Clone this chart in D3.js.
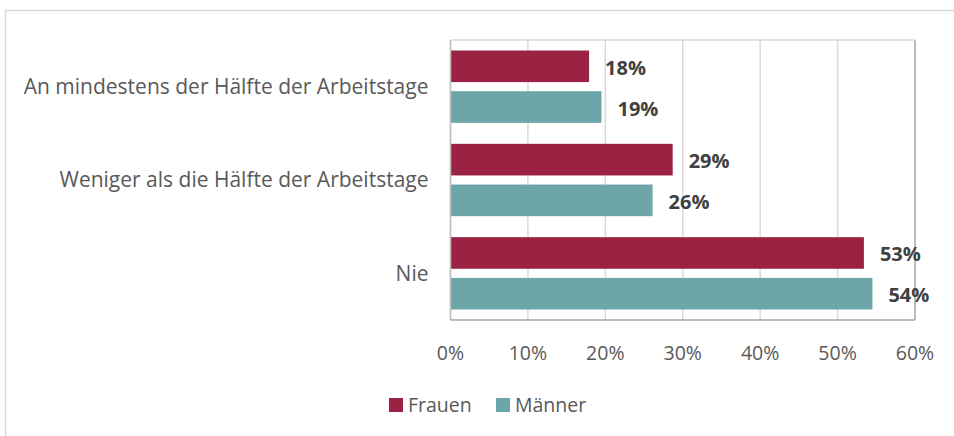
<!DOCTYPE html>
<html lang="de">
  <head>
    <meta charset="utf-8">
    <script src="https://d3js.org/d3.v7.min.js"></script>
    <title>Homeoffice</title>
    <style>
      body { margin: 0; background: #fff; }
      text { font-family: "Open Sans", sans-serif; }
    </style>
  </head>
  <body>
    <script>

      var categories = ["An mindestens der Hälfte der Arbeitstage", "Weniger als die Hälfte der Arbeitstage", "Nie"];
      var seriesNames = ["Frauen", "Männer"];
      var frauen = [17.9, 28.7, 53.4];
      var maenner = [19.5, 26.1, 54.5];
      var valueLabels = [["18%", "29%", "53%"], ["19%", "26%", "54%"]];
      var tickValues = [0, 10, 20, 30, 40, 50, 60];
      var colors = ["#9c2243", "#6ca6a8"];

      var width = 954, height = 436;
      var plotLeft = 450.5, plotRight = 915, plotTop = 40, plotBottom = 320;

      var svg = d3.select("body").append("svg")
        .attr("width", width)
        .attr("height", height);

      // outer chart frame (runs off the right and bottom edge)
      svg.append("rect")
        .attr("x", 5.5).attr("y", 10.5)
        .attr("width", 960).attr("height", 440)
        .attr("fill", "none")
        .attr("stroke", "#d9d9d9")
        .attr("stroke-width", 1.5);

      var x = d3.scaleLinear().domain([0, 60]).range([plotLeft, plotRight]);
      var y = d3.scaleBand().domain(categories).range([plotTop, plotBottom])
        .paddingInner(0.225).paddingOuter(0.1125);
      var ySub = d3.scaleBand().domain(seriesNames).range([0, y.bandwidth()])
        .paddingInner(0.224);

      // gridlines
      svg.append("g").selectAll("line").data(tickValues).enter().append("line")
        .attr("x1", function (d){ return x(d); })
        .attr("x2", function (d){ return x(d); })
        .attr("y1", plotTop).attr("y2", plotBottom)
        .attr("stroke", function (d){ return d === 60 ? "#a6a6a6" : "#d9d9d9"; })
        .attr("stroke-width", 1.5);

      svg.append("line")
        .attr("x1", plotLeft).attr("x2", plotRight).attr("y1", plotTop).attr("y2", plotTop)
        .attr("stroke", "#d9d9d9").attr("stroke-width", 1.5);

      var data = [];
      categories.forEach(function (c, i){
        data.push({cat: c, s: 0, v: frauen[i], label: valueLabels[0][i]});
        data.push({cat: c, s: 1, v: maenner[i], label: valueLabels[1][i]});
      });

      svg.append("g").selectAll("rect").data(data).enter().append("rect")
        .attr("x", x(0))
        .attr("y", function (d){ return y(d.cat) + ySub(seriesNames[d.s]); })
        .attr("width", function (d){ return x(d.v) - x(0); })
        .attr("height", ySub.bandwidth())
        .attr("fill", function (d){ return colors[d.s]; });

      svg.append("g").selectAll("text").data(data).enter().append("text")
        .attr("x", function (d){ return x(d.v) + 16; })
        .attr("y", function (d){ return y(d.cat) + ySub(seriesNames[d.s]) + ySub.bandwidth() / 2 + 1.5; })
        .attr("dy", "0.35em")
        .attr("font-size", "20px")
        .attr("font-weight", "bold")
        .attr("fill", "#404040")
        .text(function (d){ return d.label; });

      // axis lines
      svg.append("line")
        .attr("x1", plotLeft).attr("x2", plotLeft).attr("y1", plotTop).attr("y2", plotBottom)
        .attr("stroke", "#bfbfbf").attr("stroke-width", 1.5);
      svg.append("line")
        .attr("x1", plotLeft).attr("x2", plotRight).attr("y1", plotBottom).attr("y2", plotBottom)
        .attr("stroke", "#a6a6a6").attr("stroke-width", 1.5);

      // category labels
      svg.append("g").selectAll("text").data(categories).enter().append("text")
        .attr("x", plotLeft - 22)
        .attr("y", function (d){ return y(d) + y.bandwidth() / 2; })
        .attr("dy", "0.35em")
        .attr("text-anchor", "end")
        .attr("font-size", "21px")
        .attr("fill", "#595959")
        .text(function (d){ return d; });

      // x tick labels
      svg.append("g").selectAll("text").data(tickValues).enter().append("text")
        .attr("x", function (d){ return x(d); })
        .attr("y", 353)
        .attr("dy", "0.35em")
        .attr("text-anchor", "middle")
        .attr("font-size", "19.5px")
        .attr("fill", "#595959")
        .text(function (d){ return d + "%"; });

      // legend
      var legendX = [389, 496];
      var legend = svg.append("g").selectAll("g").data(seriesNames).enter().append("g")
        .attr("transform", function (d, i){ return "translate(" + legendX[i] + ",398)"; });
      legend.append("rect")
        .attr("width", 14).attr("height", 14)
        .attr("fill", function (d, i){ return colors[i]; });
      legend.append("text")
        .attr("x", 19).attr("y", 7)
        .attr("dy", "0.35em")
        .attr("font-size", "19.5px")
        .attr("fill", "#595959")
        .text(function (d){ return d; });

    </script>
  </body>
</html>
